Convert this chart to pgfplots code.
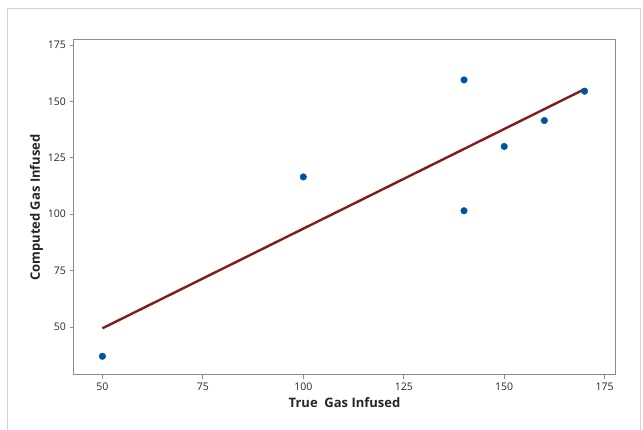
\documentclass[border=0pt]{standalone}
\usepackage{pgfplots}
\pgfplotsset{compat=1.18}
\usepackage{fontspec}
\setmainfont{Open Sans}
\definecolor{ptblue}{RGB}{0,84,159}
\definecolor{fitred}{RGB}{132,26,26}
\definecolor{framegray}{RGB}{140,140,140}
\begin{document}
\begin{tikzpicture}[x=1pt,y=1pt]
% canvas 643 x 430 px, 1px = 1pt
\useasboundingbox (0,0) rectangle (643,430);
\fill[white] (0,0) rectangle (643,430);
% outer light frame
\draw[gray!35, line width=1pt] (7,0) -- (7,421) -- (640,421) -- (640,0);

\begin{axis}[
    at={(73.5pt,55pt)},
    anchor=south west,
    scale only axis,
    width=542pt,
    height=335pt,
    xmin=42.8, xmax=177.7,
    ymin=28.7, ymax=177.2,
    xtick={50,75,...,175},
    ytick={50,75,...,175},
    tick align=outside,
    tick pos=left,
    major tick length=4pt,
    every tick/.style={framegray, line width=0.8pt},
    axis line style={framegray, line width=1pt},
    tick label style={font=\fontsize{10.5}{12}\selectfont, text=black!85},
    /pgf/number format/assume math mode=true,
    xlabel={\textbf{True\ \ Gas Infused}},
    ylabel={\textbf{Computed Gas Infused}},
    label style={font=\fontsize{13}{15}\selectfont, text=black!85},
    xlabel style={yshift=0pt},
    ylabel style={yshift=-2pt},
    clip=false,
]
% least-squares fit line
\addplot[fitred, line width=2.4pt] coordinates {(50,49.4) (170,155.4)};
% observations
\addplot[only marks, mark=*, mark size=3.3pt, ptblue] coordinates {
    (50,37) (100,116.5) (140,159.5) (140,101.5)
    (150,130) (160,141.5) (170,154.5)};
\end{axis}
\end{tikzpicture}
\end{document}
